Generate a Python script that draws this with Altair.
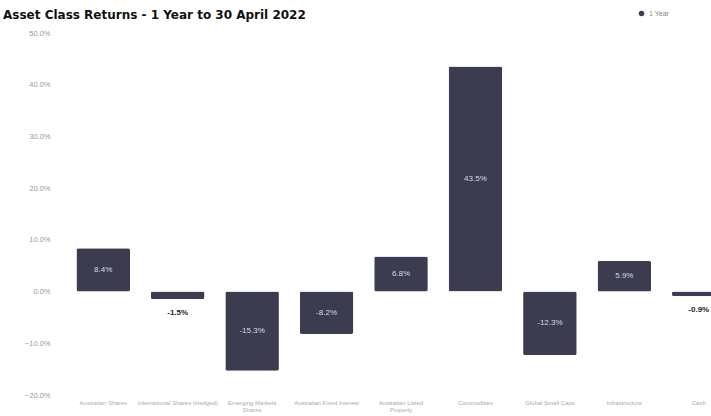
import altair as alt
import pandas as pd

categories = [
    "Australian Shares",
    "International Shares (Hedged)",
    "Emerging Markets|Shares",
    "Australian Fixed Interest",
    "Australian Listed|Property",
    "Commodities",
    "Global Small Caps",
    "Infrastructure",
    "Cash",
]
values = [8.4, -1.5, -15.3, -8.2, 6.8, 43.5, -12.3, 5.9, -0.9]
series = ["1 Year"] * len(values)
title_text = ["Asset Class Returns - 1 Year to 30 April 2022"]

df = pd.DataFrame({"cat": categories, "val": values, "series": series})
df["lbl"] = [f"{v:.1f}%" for v in values]

BAR = "#3b3c50"

x = alt.X("cat:N", sort=categories, title=None,
          scale=alt.Scale(range=[0, 670], paddingInner=0.28, paddingOuter=0.14),
          axis=alt.Axis(labelAngle=0, labelColor="#aaaaaa", labelFontSize=6,
                        labelExpr="split(datum.label, '|')",
                        labelPadding=4, labelLimit=90, labelLineHeight=7))
y = alt.Y("val:Q", title=None,
          scale=alt.Scale(domain=[-20, 50], nice=False, zero=True),
          axis=alt.Axis(values=[-20, -10, 0, 10, 20, 30, 40, 50],
                        labelExpr="format(datum.value, '.1f') + '%'",
                        labelColor="#999999", labelFontSize=7.5, labelPadding=16))

base = alt.Chart(df)

bars = base.mark_bar(cornerRadius=2).encode(
    x=x, y=y,
    color=alt.Color("series:N", scale=alt.Scale(range=[BAR]), title=None,
                    legend=alt.Legend(orient="none", legendX=572, legendY=-23,
                                      symbolType="circle", symbolSize=30,
                                      labelColor="#888888", labelFontSize=7,
                                      symbolStrokeWidth=0)),
)

inside = base.transform_filter("abs(datum.val) >= 3").transform_calculate(
    mid="datum.val / 2"
).mark_text(color="#d8d8e8", fontSize=8, font="Liberation Sans").encode(
    x=alt.X("cat:N", sort=categories), y=alt.Y("mid:Q"), text="lbl:N"
)

outside = base.transform_filter("abs(datum.val) < 3").mark_text(
    color="#222222", fontSize=8, fontWeight="bold", dy=14, font="Liberation Sans"
).encode(x=alt.X("cat:N", sort=categories), y=alt.Y("val:Q"), text="lbl:N")

title = alt.Chart(pd.DataFrame({"t": title_text})).mark_text(
    align="left", baseline="alphabetic", fontSize=12, fontWeight="bold",
    font="DejaVu Sans", color="#111111"
).encode(x=alt.value(-63), y=alt.value(-14), text="t:N")

chart = alt.layer(bars, inside, outside, title).properties(
    width=645, height=362,
    background="white",
    autosize=alt.AutoSizeParams(type="none"),
    padding={"left": 66, "top": 33, "right": 0, "bottom": 21},
).configure_view(stroke=None, strokeWidth=0).configure_axis(
    domain=False, ticks=False, grid=False
)

chart.save("out.html", embed_options={"renderer": "svg", "actions": False})
